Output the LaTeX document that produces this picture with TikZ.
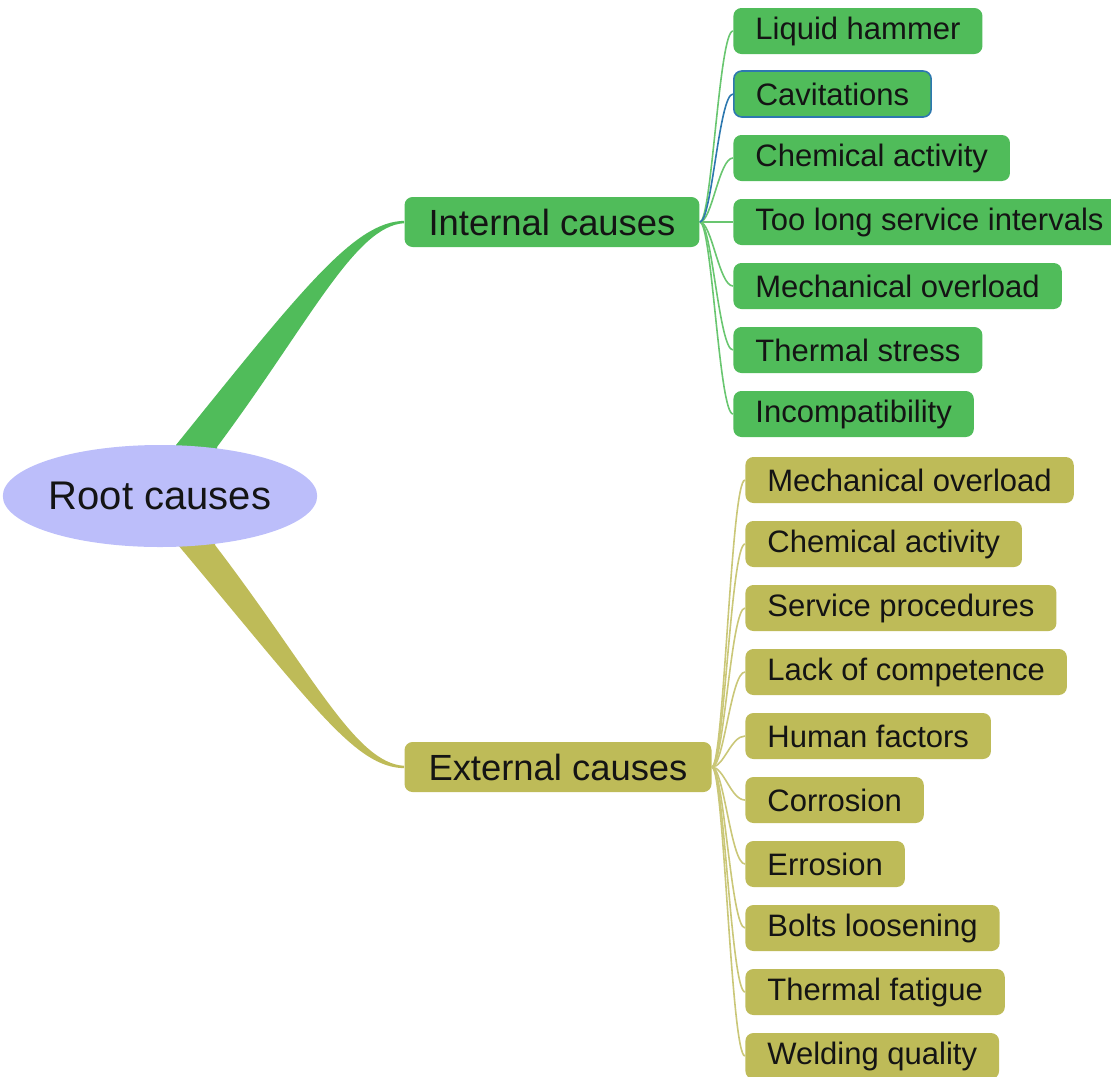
\documentclass[tikz,border=0pt]{standalone}
\usepackage{fontspec}
\setmainfont{Liberation Sans}
\usetikzlibrary{shapes.geometric}

\definecolor{intgreen}{RGB}{80,188,90}
\definecolor{extolive}{RGB}{190,187,88}
\definecolor{rootblue}{RGB}{188,190,250}
\definecolor{cavblue}{RGB}{45,120,175}
\definecolor{intwire}{RGB}{105,198,112}
\definecolor{extwire}{RGB}{202,199,120}
\definecolor{inktext}{RGB}{20,20,20}

\begin{document}
\begin{tikzpicture}[x=0.5pt,y=-0.5pt,text=inktext,
  rootnode/.style={ellipse,fill=rootblue,minimum width=147.5pt,minimum height=51pt,inner sep=0pt,font=\fontsize{20}{24}\selectfont},
  mainnode/.style={rounded corners=4pt,inner xsep=12pt,minimum height=25pt,font=\fontsize{18.2}{22}\selectfont},
  leafi/.style={rounded corners=4pt,inner xsep=11pt,minimum height=23pt,anchor=west,fill=intgreen,font=\fontsize{15.5}{19}\selectfont},
  leafcav/.style={leafi,draw=cavblue,line width=0.8pt},
  leafe/.style={leafi,fill=extolive},
  intconn/.style={intwire,line width=0.8pt},
  cavconn/.style={cavblue,line width=0.8pt},
  extconn/.style={extwire,line width=0.8pt}]
\useasboundingbox (0,0) rectangle (1111,1076);

\node[mainnode,fill=intgreen] (int) at (552,222) {Internal causes};
\node[mainnode,fill=extolive] (ext) at (558,767) {External causes};

\fill[intgreen] (176,470) -- (176,445) .. controls (305,285) and (355,222) .. ([yshift=0.6pt]int.west) -- ([yshift=-0.6pt]int.west) .. controls (355,226) and (310,322) .. (217,447) -- (217,470) -- cycle;
\fill[extolive] (178,520) -- (178,545) .. controls (315,708) and (355,767) .. ([yshift=-0.6pt]ext.west) -- ([yshift=0.6pt]ext.west) .. controls (355,763) and (312,672) .. (215,545) -- (215,520) -- cycle;

\node[rootnode] (root) at (160,496) {Root causes};

\foreach \n/\y/\s/\L in {1/31/leafi/Liquid hammer,2/94/leafcav/Cavitations,3/158/leafi/Chemical activity,4/222/leafi/Too long service intervals,5/286/leafi/Mechanical overload,6/350/leafi/Thermal stress,7/414/leafi/Incompatibility}
{
  \node[\s] (i\n) at (733,\y) {\L};
}
\foreach \n/\y/\L in {1/480/Mechanical overload,2/544/Chemical activity,3/608/Service procedures,4/672/Lack of competence,5/736/Human factors,6/800/Corrosion,7/864/Errosion,8/928/Bolts loosening,9/992/Thermal fatigue,10/1056/Welding quality}
{
  \node[leafe] (e\n) at (745,\y) {\L};
}

\foreach \n in {1,3,4,5,6,7}
  \draw[intconn] (int.east) .. controls +(12,0) and +(-14,0) .. (i\n.west);
\draw[cavconn] (int.east) .. controls +(12,0) and +(-14,0) .. (i2.west);
\foreach \n in {1,...,10}
  \draw[extconn] (ext.east) .. controls +(12,0) and +(-14,0) .. (e\n.west);
\end{tikzpicture}
\end{document}
